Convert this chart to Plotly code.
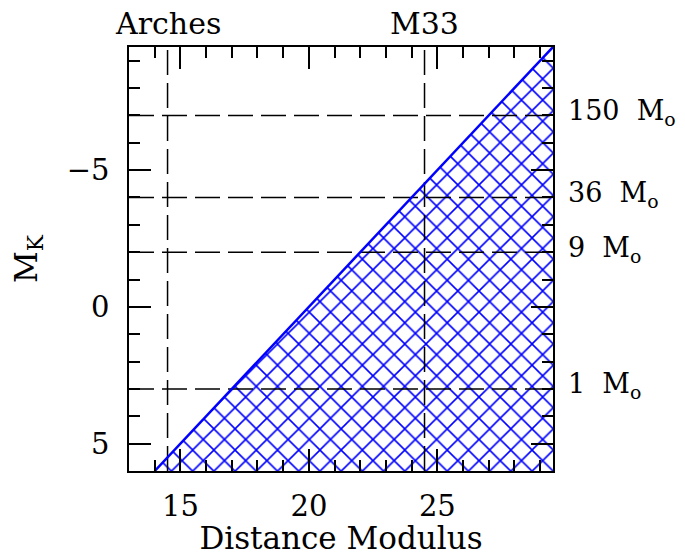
import plotly.graph_objects as go

# ---- data ----
x_range = [13.0, 29.5]          # distance modulus axis
y_range = [6.0, -9.5]           # M_K axis (reversed)
k_limit = 20.0                  # limiting K magnitude: M_K = K - DM
limit_dm = [14.0, 29.5]         # distance-modulus ends of the limit line
ref_dm = [14.5, 24.5]           # reference distances
ref_labels = ["Arches", "M33"]
mass_mk = [-7.0, -4.0, -2.0, 3.0]
mass_labels = ["150", "36", "9", "1"]

limit_mk = [k_limit - d for d in limit_dm]

FONT = "DejaVu Serif"
BLUE = "#0000ff"
DASH = "25px,8px"

fig = go.Figure()

# hatched detectable region
fig.add_trace(go.Scatter(
    x=[limit_dm[0], limit_dm[1], limit_dm[1], limit_dm[0]],
    y=[limit_mk[0], limit_mk[1], limit_mk[0], limit_mk[0]],
    mode="lines", fill="toself",
    fillcolor="rgba(0,0,0,0)",
    fillpattern=dict(shape="x", fgcolor=BLUE, bgcolor="rgba(0,0,0,0)",
                     size=15, solidity=0.2, fillmode="replace"),
    line=dict(width=0), hoverinfo="skip", showlegend=False))

# horizontal dashed mass lines
for mk in mass_mk:
    fig.add_trace(go.Scatter(x=x_range, y=[mk, mk], mode="lines",
                             line=dict(color="black", width=1.5, dash=DASH),
                             hoverinfo="skip", showlegend=False))
# vertical dashed reference lines
for d in ref_dm:
    fig.add_trace(go.Scatter(x=[d, d], y=y_range, mode="lines",
                             line=dict(color="black", width=1.5, dash=DASH),
                             hoverinfo="skip", showlegend=False))

# limit line
fig.add_trace(go.Scatter(x=limit_dm, y=limit_mk, mode="lines",
                         line=dict(color=BLUE, width=2.5),
                         hoverinfo="skip", showlegend=False))

annotations = []
for d, lab in zip(ref_dm, ref_labels):
    annotations.append(dict(x=d, xref="x", y=1.0, yref="paper", yanchor="bottom",
                            yshift=4, text=lab, showarrow=False,
                            font=dict(family=FONT, size=30, color="black")))
for mk, lab in zip(mass_mk, mass_labels):
    annotations.append(dict(x=1.0, xref="paper", xanchor="left", xshift=13,
                            y=mk, yref="y", yanchor="middle", yshift=3,
                            text=lab + "\u00a0\u00a0M<sub>o</sub>", showarrow=False,
                            font=dict(family=FONT, size=27, color="black")))

axis_common = dict(
    showline=True, linecolor="black", linewidth=1.5, mirror="allticks",
    ticks="inside", ticklen=22, tickwidth=1.5, tickcolor="black",
    showgrid=False, zeroline=False, automargin=False,
    tickfont=dict(family=FONT, size=29, color="black"),
    minor=dict(dtick=1, ticks="inside", ticklen=11, tickwidth=1.5,
               tickcolor="black", showgrid=False),
)

fig.update_layout(
    width=677, height=548,
    margin=dict(l=121, r=132, t=39, b=85),
    paper_bgcolor="white", plot_bgcolor="white",
    font=dict(family=FONT, color="black"),
    xaxis=dict(range=x_range, tick0=0, dtick=5, ticklabelstandoff=8,
               title=dict(text="Distance Modulus", standoff=6,
                          font=dict(family=FONT, size=31, color="black")),
               **axis_common),
    yaxis=dict(range=y_range, tick0=0, dtick=5, ticklabelstandoff=12,
               title=dict(text="M<sub>K</sub>", standoff=28,
                          font=dict(family=FONT, size=31, color="black")),
               **axis_common),
    annotations=annotations,
    showlegend=False,
)

fig.write_html("out.html")
